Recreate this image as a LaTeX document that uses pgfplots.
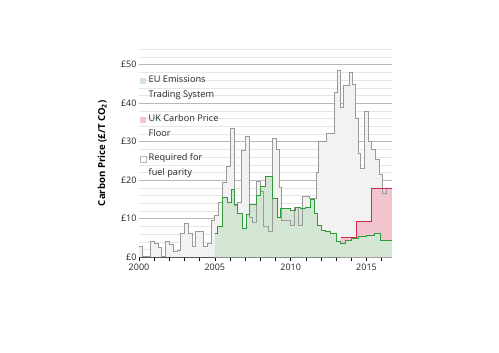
\documentclass[border=0pt]{standalone}
\usepackage{pgfplots}
\pgfplotsset{compat=1.18}
\usepackage{pgfplotstable}
\usepackage{fontspec}
\setmainfont{Open Sans}
\definecolor{gridmaj}{HTML}{B8B8B8}
\definecolor{gridmin}{HTML}{E6E6E6}
\definecolor{etsline}{HTML}{2E9A3A}
\definecolor{etsfill}{HTML}{D3E6D3}
\definecolor{cpfline}{HTML}{D0284F}
\definecolor{cpffill}{HTML}{F2C4CE}
\definecolor{parline}{HTML}{9A9A9A}
\definecolor{parfill}{HTML}{F2F2F2}

\pgfplotstableread{
x y
2000.00 2.7
2000.25 0.2
2000.75 4.1
2001.00 3.6
2001.25 2.6
2001.50 0.3
2001.75 4.1
2002.00 3.4
2002.25 1.5
2002.50 1.7
2002.75 6.2
2003.00 8.7
2003.25 6.2
2003.50 2.7
2003.75 6.6
2004.25 2.7
2004.50 3.6
2004.75 9.6
2005.00 10.9
2005.25 14.3
2005.50 19.4
2005.75 23.7
2006.00 33.5
2006.30 13.4
2006.50 14.3
2006.75 27.7
2007.00 31.4
2007.30 10.4
2007.50 9.1
2007.75 19.8
2008.00 17.0
2008.20 7.9
2008.55 6.6
2008.77 30.9
2009.03 28.0
2009.25 18.1
2009.40 9.6
2009.75 9.5
2010.00 8.3
2010.25 13.0
2010.50 8.4
2010.75 15.8
2011.25 15.2
2011.70 22.0
2011.85 30.1
2012.35 32.2
2012.85 42.9
2013.05 48.5
2013.30 39.0
2013.50 44.5
2013.85 48.0
2014.05 45.0
2014.30 36.0
2014.45 27.0
2014.60 23.0
2014.85 38.0
2015.10 30.0
2015.35 28.0
2015.60 25.5
2015.85 21.5
2016.05 16.5
2016.30 18.0
2016.68 18.0
}\parity

\pgfplotstableread{
x y
2005.00 6.2
2005.20 8.0
2005.48 15.6
2005.80 14.3
2006.07 17.5
2006.30 13.8
2006.50 11.3
2006.80 7.4
2007.08 11.1
2007.30 13.8
2007.75 16.0
2008.00 18.3
2008.33 21.1
2008.77 15.4
2009.10 10.4
2009.33 12.6
2010.00 12.1
2010.33 13.0
2010.67 12.6
2011.00 13.0
2011.30 14.9
2011.60 11.3
2011.75 8.3
2012.00 7.0
2012.30 6.6
2012.60 6.3
2013.00 4.0
2013.27 3.6
2013.60 4.3
2014.00 4.9
2014.50 5.3
2015.00 5.7
2015.55 6.2
2015.92 4.4
2016.68 4.4
}\ets

\pgfplotstableread{
x y
2013.30 5.1
2014.33 9.4
2015.33 18.0
2016.68 18.0
}\cpf

\begin{document}
\begin{tikzpicture}[x=1pt,y=1pt]
\useasboundingbox (-139,-95.7) rectangle (360,257.3);
\begin{axis}[
  at={(0,0)}, anchor=south west,
  width=253pt, height=208pt, scale only axis,
  xmin=2000, xmax=2016.68, ymin=0, ymax=54,
  axis x line*=bottom, axis y line*=left,
  x axis line style={black, -},
  y axis line style={draw=none},
  xtick={2000,2005,2010,2015},
  xticklabels={2000,2005,2010,2015},
  minor xtick={2001,2002,2003,2004,2006,2007,2008,2009,2011,2012,2013,2014,2016},
  xtick align=center,
  major tick length=7pt,
  minor tick length=4pt,
  xtick style={black, semithick},
  minor x tick style={black, semithick, yshift=-2pt},
  ytick={0,10,20,30,40,50},
  yticklabels={£0,£10,£20,£30,£40,£50},
  minor ytick={2,4,...,54},
  ytick style={draw=none},
  minor y tick style={draw=none},
  ymajorgrids, yminorgrids,
  major grid style={gridmaj, line width=0.6pt},
  minor grid style={gridmin, line width=0.6pt},
  tick label style={font=\fontsize{9}{10}\selectfont, text=black!85},
  yticklabel style={xshift=1pt},
  xticklabel style={yshift=0pt},
  ylabel={\textbf{Carbon Price (£/T CO\textsubscript{2})}},
  ylabel style={at={(axis description cs:-0.145,0.5)}, anchor=center, font=\fontsize{9.6}{11}\selectfont},
  legend style={at={(rel axis cs:0.004,0.882)}, anchor=north west, draw=none, fill=none,
    font=\fontsize{9.2}{15}\selectfont, text=black!85, cells={anchor=west, align=left}, row sep=11.5pt, inner sep=0pt},
  legend image code/.code={\path[#1] (0pt,3.5pt) rectangle (6pt,9.5pt);},
  clip=true,
]
\addlegendimage{fill=etsfill, draw=none}
\addlegendentry{EU Emissions\\Trading System}
\addlegendimage{fill=cpffill, draw=none}
\addlegendentry{UK Carbon Price\\Floor}
\addlegendimage{fill=white, draw=parline!70, line width=0.5pt}
\addlegendentry{Required for\\fuel parity}

\addplot[const plot, fill=parfill, draw=none, forget plot] table {\parity} \closedcycle;
\addplot[const plot, fill=cpffill, draw=none, forget plot] table {\cpf} \closedcycle;
\addplot[const plot, fill=etsfill, draw=none, forget plot] table {\ets} \closedcycle;
\addplot[const plot, draw=parline, line width=0.8pt, forget plot] table {\parity};
\addplot[const plot, draw=cpfline, line width=0.9pt, forget plot] table {\cpf};
\addplot[const plot, draw=etsline, line width=0.9pt, forget plot] table {\ets};
\end{axis}
\end{tikzpicture}
\end{document}
